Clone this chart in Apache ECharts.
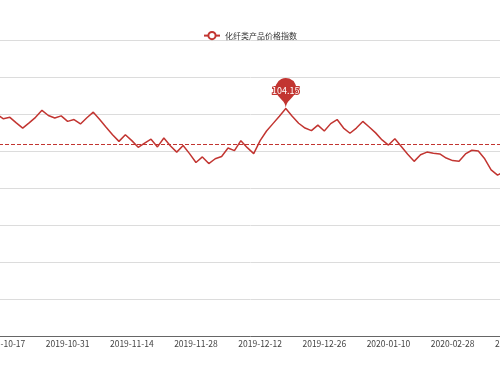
<!DOCTYPE html>
<html>
<head>
<meta charset="utf-8">
<script src="https://cdn.jsdelivr.net/npm/echarts@6/dist/echarts.min.js"></script>
<style>
html,body{margin:0;padding:0;overflow:hidden;width:500px;height:375px;background:#fff;}
#chart{position:absolute;left:-60px;top:0;width:620px;height:375px;}
</style>
</head>
<body>
<div id="chart"></div>
<script>
const seriesName = '化纤类产品价格指数';
const dates = [
  '2019-10-14','2019-10-15','2019-10-16','2019-10-17','2019-10-18','2019-10-21','2019-10-22','2019-10-23','2019-10-24','2019-10-25',
  '2019-10-28','2019-10-29','2019-10-30','2019-10-31','2019-11-01','2019-11-04','2019-11-05','2019-11-06','2019-11-07','2019-11-08',
  '2019-11-11','2019-11-12','2019-11-13','2019-11-14','2019-11-15','2019-11-18','2019-11-19','2019-11-20','2019-11-21','2019-11-22',
  '2019-11-25','2019-11-26','2019-11-27','2019-11-28','2019-11-29','2019-12-02','2019-12-03','2019-12-04','2019-12-05','2019-12-06',
  '2019-12-09','2019-12-10','2019-12-11','2019-12-12','2019-12-13','2019-12-16','2019-12-17','2019-12-18','2019-12-19','2019-12-20',
  '2019-12-23','2019-12-24','2019-12-25','2019-12-26','2019-12-27','2019-12-30','2019-12-31','2020-01-02','2020-01-03','2020-01-06',
  '2020-01-07','2020-01-08','2020-01-09','2020-01-10','2020-01-13','2020-01-14','2020-01-15','2020-01-16','2020-01-17','2020-01-20',
  '2020-01-21','2020-01-22','2020-01-23','2020-02-28','2020-03-02','2020-03-03','2020-03-04','2020-03-05','2020-03-06','2020-03-09',
  '2020-03-10','2020-03-11','2020-03-12','2020-03-13'
];
const values = [
  103.95,104.02,103.99,103.87,103.91,103.76,103.62,103.76,103.91,104.10,
  103.96,103.89,103.95,103.80,103.85,103.73,103.90,104.05,103.85,103.64,
  103.44,103.26,103.44,103.28,103.10,103.21,103.32,103.11,103.35,103.14,
  102.97,103.15,102.93,102.69,102.84,102.66,102.79,102.85,103.08,103.01,
  103.28,103.09,102.93,103.28,103.54,103.74,103.94,104.15,103.94,103.75,
  103.62,103.55,103.70,103.54,103.74,103.85,103.62,103.48,103.62,103.80,
  103.65,103.49,103.30,103.16,103.33,103.12,102.91,102.72,102.90,102.97,
  102.94,102.92,102.81,102.74,102.72,102.92,103.02,103.00,102.79,102.49,
  102.35,102.44,102.30,102.20
];
const averageLine = [103.18];
const firstLabelIndex = 3;
const labelEvery = 10;

const chart = echarts.init(document.getElementById('chart'), null, {renderer: 'canvas'});
const showIdx = function (idx) { return idx >= firstLabelIndex && (idx - firstLabelIndex) % labelEvery === 0; };
chart.setOption({
  animation: false,
  textStyle: {fontFamily: '"Noto Sans CJK SC", "Noto Sans", sans-serif'},
  legend: {
    top: 26,
    left: 'center',
    itemWidth: 16,
    itemHeight: 9,
    itemGap: 8,
    textStyle: {color: '#333', fontSize: 8},
    data: [seriesName]
  },
  grid: {left: 41, right: 40, top: 40, bottom: 39, containLabel: false},
  xAxis: {
    type: 'category',
    data: dates,
    boundaryGap: true,
    axisLine: {lineStyle: {color: '#666'}},
    axisTick: {interval: showIdx, length: 3, lineStyle: {color: '#666'}},
    axisLabel: {interval: showIdx, color: '#444', fontSize: 8.5, margin: 4}
  },
  yAxis: {
    type: 'value',
    min: 98, max: 106, interval: 1,
    axisLine: {show: false},
    axisTick: {show: false},
    axisLabel: {color: '#444', fontSize: 8.5},
    splitLine: {lineStyle: {color: '#dcdcdc'}}
  },
  series: [{
    name: seriesName,
    type: 'line',
    data: values,
    showSymbol: false,
    symbol: 'emptyCircle',
    symbolSize: 5,
    itemStyle: {color: '#c23531'},
    lineStyle: {color: '#c23531', width: 1.5},
    markPoint: {
      symbol: 'pin',
      symbolSize: 35,
      label: {color: '#fff', fontSize: 9, textBorderColor: '#c23531', textBorderWidth: 2},
      itemStyle: {color: '#c23531'},
      data: [{type: 'max', name: '最大值'}]
    },
    markLine: {
      symbol: 'none',
      silent: true,
      label: {show: false},
      lineStyle: {color: '#c23531', type: 'dashed', width: 1},
      data: [{yAxis: averageLine[0], name: '平均值'}]
    }
  }]
});
</script>
</body>
</html>
